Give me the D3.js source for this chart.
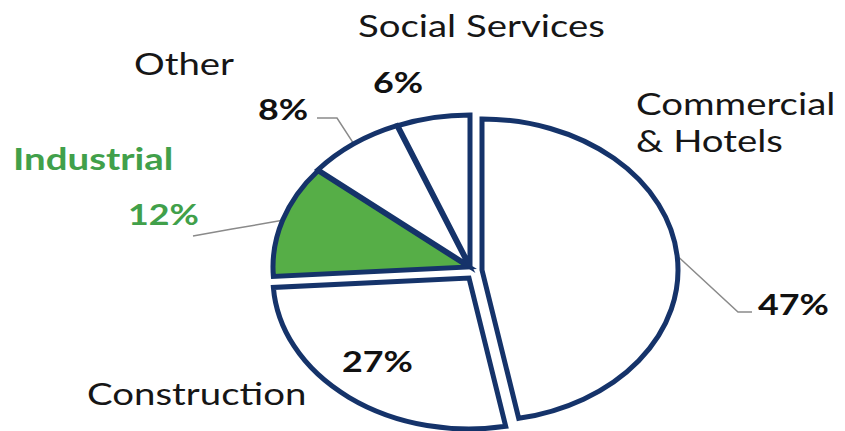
<!DOCTYPE html>
<html>
<head>
<meta charset="utf-8">
<script src="https://cdn.jsdelivr.net/npm/d3@7"></script>
<style>
  body { margin: 0; background: #fff; }
  text { font-family: Lato, "Open Sans", sans-serif; }
</style>
</head>
<body>
<div id="chart"></div>
<script>
// data
const categories = ['Commercial & Hotels', 'Construction', 'Industrial', 'Other', 'Social Services'];
const shares = [47, 27, 12, 8, 6];
const shareLabels = ['47%', '27%', '12%', '8%', '6%'];

const width = 845;
const height = 431;
const cx = 470, cy = 267;
const rx = 196, ry = 151;
const navy = '#15336a';
const green = '#56ae47';
const greenText = '#41a04a';
const textScale = 1.28;

// per slice styling / layout
const explode = [[12, 3], [-1, 11], [-1, 0], [-1, -1], [0, -1]];
const fills = ['#fff', '#fff', green, '#fff', '#fff'];
const nameLines = [['Commercial', '& Hotels'], ['Construction'], ['Industrial'], ['Other'], ['Social Services']];
const namePos = [[636, 115], [87, 405], [13, 170], [134, 75], [358, 37]];
const sharePos = [[758, 315], [342, 372], [128, 225], [258, 120], [373, 93]];
const leaderStart = [[[752, 312], [738, 312]], null, [[193, 236], [232, 229]], [[317, 118], [337, 118]], null];

const svg = d3.select('#chart')
    .append('svg')
    .attr('width', width)
    .attr('height', height);

const pie = d3.pie().sort(null).value(d => d);
const arcs = pie(shares);
const arc = d3.arc().innerRadius(0).outerRadius(ry);

function edgePoint(d, i) {
    const a = (d.startAngle + d.endAngle) / 2;
    return [cx + explode[i][0] + rx * Math.sin(a), cy + explode[i][1] - ry * Math.cos(a)];
}

// leader lines
const line = d3.line();
svg.selectAll('path.leader')
    .data(arcs.filter((d, i) => leaderStart[i]))
    .enter()
    .append('path')
    .attr('class', 'leader')
    .attr('d', d => line(leaderStart[d.index].concat([edgePoint(d, d.index)])))
    .attr('fill', 'none')
    .attr('stroke', '#8a8a8a')
    .attr('stroke-width', 1.5);

// slices
svg.selectAll('path.slice')
    .data(arcs)
    .enter()
    .append('path')
    .attr('class', 'slice')
    .attr('transform', (d, i) => `translate(${cx + explode[i][0]},${cy + explode[i][1]}) scale(${rx / ry},1)`)
    .attr('d', arc)
    .attr('fill', (d, i) => fills[i])
    .attr('stroke', navy)
    .attr('stroke-width', 5)
    .attr('stroke-linejoin', 'miter')
    .attr('vector-effect', 'non-scaling-stroke');

// category names
const names = svg.selectAll('text.name')
    .data(categories)
    .enter()
    .append('text')
    .attr('class', 'name')
    .attr('transform', (d, i) => `translate(${namePos[i][0]},${namePos[i][1]}) scale(${textScale},1)`)
    .attr('font-size', 30)
    .attr('font-weight', (d, i) => i === 2 ? 'bold' : 'normal')
    .attr('fill', (d, i) => i === 2 ? greenText : '#161616');

names.selectAll('tspan')
    .data((d, i) => nameLines[i])
    .enter()
    .append('tspan')
    .attr('x', 0)
    .attr('dy', (d, j) => j === 0 ? 0 : 37)
    .text(d => d);

// share labels
svg.selectAll('text.share')
    .data(shareLabels)
    .enter()
    .append('text')
    .attr('class', 'share')
    .attr('transform', (d, i) => `translate(${sharePos[i][0]},${sharePos[i][1]}) scale(${textScale},1)`)
    .attr('font-size', 28)
    .attr('font-weight', 'bold')
    .attr('fill', (d, i) => i === 2 ? greenText : '#111')
    .text(d => d);
</script>
</body>
</html>
